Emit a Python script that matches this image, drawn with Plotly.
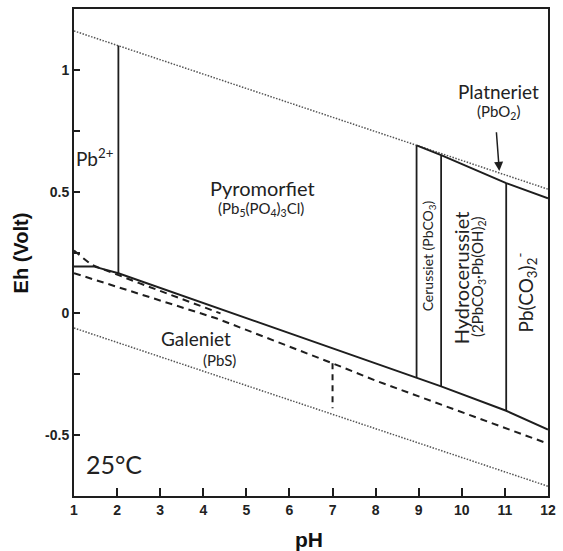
import plotly.graph_objects as go

# ---- data (pH, Eh) ----
water_upper_ph = [1, 12]
water_upper_eh = [1.16, 0.51]
water_lower_ph = [1, 12]
water_lower_eh = [-0.06, -0.71]

lower_boundary_ph = [1, 1.45, 2.03, 8.95, 9.52, 11.03, 12]
lower_boundary_eh = [0.193, 0.193, 0.165, -0.263, -0.30, -0.40, -0.477]

upper_boundary_ph = [8.95, 9.52, 11.03, 12]
upper_boundary_eh = [0.69, 0.65, 0.535, 0.473]

pb2_ph = [2.03, 2.03]
pb2_eh = [0.165, 1.10]
cer_ph = [8.95, 8.95]
cer_eh = [-0.263, 0.69]
hyd_ph = [9.52, 9.52]
hyd_eh = [-0.30, 0.65]
carb_ph = [11.03, 11.03]
carb_eh = [-0.40, 0.535]

dash_upper_ph = [1, 1.4, 2.5, 4.4]
dash_upper_eh = [0.258, 0.2, 0.125, 0.0]
dash_lower_ph = [1, 4.3, 7, 8, 12]
dash_lower_eh = [0.165, -0.02, -0.205, -0.276, -0.535]
dash_vert_ph = [7, 7]
dash_vert_eh = [-0.205, -0.39]

x_ticks = list(range(1, 13))
y_ticks = [-0.5, 0, 0.5, 1]
y_ticklabels = ["-0.5", "0", "0.5", "1"]

INK = "#1e1e1e"

fig = go.Figure()

def add_line(xs, ys, width=2, dash="solid", color=INK):
    fig.add_trace(go.Scatter(x=xs, y=ys, mode="lines",
                             line=dict(color=color, width=width, dash=dash),
                             hoverinfo="skip", showlegend=False))

add_line(water_upper_ph, water_upper_eh, width=1.5, dash="1.5px,1.5px", color="#555")
add_line(water_lower_ph, water_lower_eh, width=1.5, dash="1.5px,1.5px", color="#555")
add_line(dash_upper_ph, dash_upper_eh, width=2, dash="7px,5px")
add_line(dash_lower_ph, dash_lower_eh, width=2, dash="7px,5px")
add_line(dash_vert_ph, dash_vert_eh, width=2, dash="6px,5px")
add_line(lower_boundary_ph, lower_boundary_eh, width=2)
add_line(upper_boundary_ph, upper_boundary_eh, width=2)
add_line(pb2_ph, pb2_eh, width=1.8)
add_line(cer_ph, cer_eh, width=1.8)
add_line(hyd_ph, hyd_eh, width=1.8)
add_line(carb_ph, carb_eh, width=1.8)

FONT = "Lato"
TXT = "#222"

def label(x, y, text, size, angle=0):
    fig.add_annotation(x=x, y=y, text=text, showarrow=False, textangle=angle,
                       font=dict(family=FONT, size=size, color=TXT),
                       xanchor="center", yanchor="middle")

label(1.48, 0.64, "Pb<sup>2+</sup>", 19)
label(5.37, 0.514, "Pyromorfiet", 20)
label(5.35, 0.428, "(Pb<sub>5</sub>(PO<sub>4</sub>)<sub>3</sub>Cl)", 15)
label(3.82, -0.103, "Galeniet", 19)
label(4.37, -0.193, "(PbS)", 15)
label(10.85, 0.91, "Platneriet", 19)
label(10.85, 0.828, "(PbO<sub>2</sub>)", 15)
label(1.92, -0.62, "25°C", 25)
label(9.22, 0.235, "Cerussiet (PbCO<sub>3</sub>)", 14, -90)
label(9.98, 0.148, "Hydrocerussiet", 20, -90)
label(10.39, 0.148, "(2PbCO<sub>3</sub>·Pb(OH)<sub>2</sub>)", 15, -90)
label(11.49, 0.086, "Pb(CO<sub>3</sub>)<sub>2</sub><sup>-</sup>", 19, -90)

# arrow to PbO2 boundary
fig.add_annotation(x=10.87, y=0.585, ax=10.8, ay=0.75, axref="x", ayref="y",
                   xref="x", yref="y", text="", showarrow=True,
                   arrowhead=2, arrowsize=1.2, arrowwidth=1.5, arrowcolor=INK)

# axis titles
fig.add_annotation(x=-0.112, y=0.25, xref="paper", yref="y", text="<b>Eh (Volt)</b>",
                   showarrow=False, textangle=-90,
                   font=dict(family="Arial", size=20, color="#111"),
                   xanchor="center", yanchor="middle")
fig.add_annotation(x=6.45, y=-0.09, xref="x", yref="paper", text="<b>pH</b>",
                   showarrow=False,
                   font=dict(family="Arial", size=21, color="#111"),
                   xanchor="center", yanchor="middle")

TICKFONT = dict(family="Liberation Sans, Arial", size=14, color="#222", weight="bold")

fig.update_layout(
    width=563, height=551,
    margin=dict(l=74, r=7, t=9, b=55),
    paper_bgcolor="white", plot_bgcolor="white",
    showlegend=False,
)
fig.update_xaxes(
    range=[1, 12], tickvals=x_ticks, ticktext=[str(v) for v in x_ticks],
    ticks="inside", ticklen=8, tickwidth=2, tickcolor=INK,
    showline=True, linewidth=2, linecolor=INK, mirror=True,
    showgrid=False, zeroline=False,
    tickfont=TICKFONT,
)
fig.update_yaxes(
    range=[-0.75, 1.25], tickvals=y_ticks, ticktext=y_ticklabels,
    ticks="inside", ticklen=6, tickwidth=2, tickcolor=INK,
    minor=dict(tickvals=[-0.25, 0.25, 0.75], ticks="inside", ticklen=6, tickwidth=2, tickcolor=INK),
    showline=True, linewidth=2, linecolor=INK, mirror=True,
    showgrid=False, zeroline=False,
    tickfont=TICKFONT,
)

fig.write_html("out.html")
